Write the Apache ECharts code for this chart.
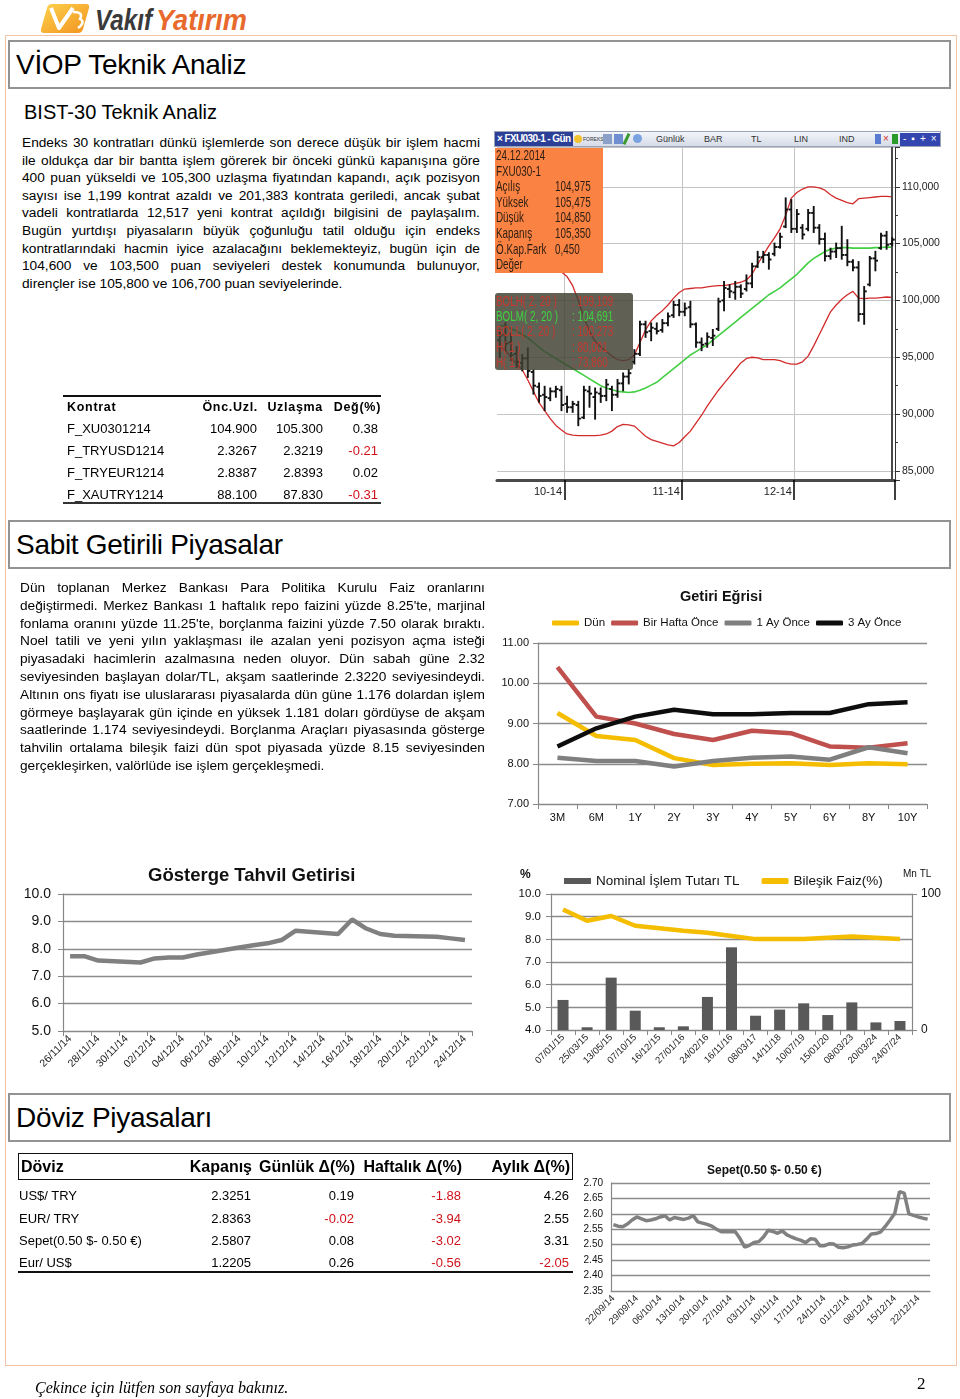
<!DOCTYPE html>
<html lang="tr"><head><meta charset="utf-8">
<script src="https://cdn.jsdelivr.net/npm/echarts@6/dist/echarts.min.js"></script>
<style>
html,body{margin:0;padding:0;background:#fff;}
body{width:960px;height:1399px;position:relative;overflow:hidden;font-family:Arial,"Liberation Sans",Helvetica,sans-serif;color:#000;}
.abs{position:absolute;}
.frame{left:5px;top:35px;width:952px;height:1331px;border:1.5px solid #F3C4A6;box-sizing:border-box;}
.hbox{left:8px;width:943px;height:49px;border:2px solid #939393;box-sizing:border-box;background:#fff;font-size:28px;line-height:45px;padding-left:6px;letter-spacing:-0.3px;}
.para{font-size:13.7px;}
.para .ln{white-space:nowrap;}
.cell{position:absolute;white-space:nowrap;transform:translateY(-50%);}
.tb span{position:absolute;top:2px;font-size:9px;color:#333;}
</style></head>
<body>
<script>
// ---------------- DATA ----------------
// FXU030-1 daily bars
const candleDates = ['15.09.2014','16.09.2014','17.09.2014','18.09.2014','19.09.2014','22.09.2014','23.09.2014','24.09.2014','25.09.2014','26.09.2014','29.09.2014','30.09.2014',
'01.10.2014','02.10.2014','03.10.2014','08.10.2014','09.10.2014','10.10.2014','13.10.2014','14.10.2014','15.10.2014','16.10.2014','17.10.2014','20.10.2014','21.10.2014','22.10.2014','23.10.2014','24.10.2014','27.10.2014','28.10.2014','29.10.2014','30.10.2014','31.10.2014',
'03.11.2014','04.11.2014','05.11.2014','06.11.2014','07.11.2014','10.11.2014','11.11.2014','12.11.2014','13.11.2014','14.11.2014','17.11.2014','18.11.2014','19.11.2014','20.11.2014','21.11.2014','24.11.2014','25.11.2014','26.11.2014','27.11.2014','28.11.2014',
'01.12.2014','02.12.2014','03.12.2014','04.12.2014','05.12.2014','08.12.2014','09.12.2014','10.12.2014','11.12.2014','12.12.2014','15.12.2014','16.12.2014','17.12.2014','18.12.2014','19.12.2014','22.12.2014','23.12.2014','24.12.2014'];
const candleOpen = [96500,97000,96300,95300,94500,94900,93700,92400,91700,91400,92000,92100,
90900,90600,90800,89700,92000,91500,91800,91600,92200,91700,92700,93300,94600,95300,97900,97300,97500,97400,98000,98700,99600,
99000,99400,97900,96300,96200,96700,97500,100000,101000,100700,101200,101000,101500,103000,103800,104000,104100,104700,106500,108000,
106300,106400,106300,107700,106400,105400,103900,104300,104600,104000,103400,102900,98800,101400,103700,104600,105700,104975];
const candleHigh = [97400,97975,97100,95900,95200,95775,93850,92700,92400,92250,92400,92400,
91525,91075,91075,92400,92400,92250,92250,93000,92400,93000,93575,93875,95625,98125,98125,97975,97975,98275,98850,99875,100025,
99725,99875,97975,96650,97100,97400,100150,101625,101325,101625,101325,102200,103225,104275,104275,104150,105000,105875,108975,108825,
107950,106625,107950,108225,106625,105875,104550,105000,106475,105300,103525,103375,101175,103825,104275,105875,106025,105475];
const candleLow = [95050,95625,94750,94150,93850,93275,91800,91075,90350,91225,91525,90350,
90200,90200,89025,89650,90650,89600,91075,91225,90350,91525,92100,92700,94450,95200,96800,96500,97100,97250,97825,98550,98700,
98700,97675,95925,95625,95925,96075,97400,99125,100300,100150,100300,100875,101175,102950,103375,102800,103975,104650,106450,106025,
106025,105450,106175,106025,105000,103525,103675,103825,103675,103100,102650,98225,97950,101325,102650,104550,104550,104850];
const candleClose = [96900,96200,95200,94600,94900,93800,92500,91600,91500,92000,92200,90800,
90600,90900,89600,92100,91800,91900,91600,92600,91700,92700,93300,93600,95300,97900,97200,97600,97300,98000,98600,99600,99000,
99300,97900,96300,96100,96800,96900,99900,101100,100800,101200,100600,101500,103000,103800,104000,103600,104700,105600,108000,106300,
107600,105800,107700,106400,105400,103900,104300,104600,104000,103400,102900,98800,100800,103700,103500,105700,104900,105350];
const bollUpper = [106500,106300,106000,105700,105400,105100,104800,104400,104000,103500,103000,102500,
102100,101300,100000,98500,97300,96400,95900,95500,95100,94800,94700,94800,95200,96300,97400,98200,98700,99100,99600,100200,100700,
101000,101050,101100,101100,101200,101250,101300,101300,101400,101500,101600,101800,102300,103200,104000,104800,105500,106300,107500,109000,
109500,109800,110000,110000,109900,109700,109300,109000,108800,108600,108500,108950,109000,109050,109100,109150,109150,109110];
const bollMiddle = [97800,97700,97500,97300,97000,96700,96300,95900,95500,95200,94900,94600,
94300,94000,93700,93400,93100,92800,92500,92300,92150,92000,91950,91900,91950,92100,92300,92550,92800,93200,93600,94000,94400,
94800,95200,95500,95800,96100,96500,96900,97300,97700,98100,98500,98900,99300,99700,100100,100500,100800,101100,101500,101900,
102300,102800,103300,103700,104000,104300,104500,104600,104650,104650,104600,104600,104600,104600,104650,104650,104700,104691];
const bollLower = [96000,95600,95000,94400,93900,93000,92000,91000,90300,89600,89000,88600,
88250,88150,88100,88100,88100,88100,88150,88250,88500,88900,89100,89050,88950,88500,88050,87750,87600,87450,87300,87200,87500,
88000,88500,89200,89900,90700,91400,92100,92700,93300,93900,94500,94900,95000,94950,94800,94800,94800,94700,94500,94400,
94400,94600,95100,96000,97000,98000,99000,99600,100100,100500,100800,100200,100150,100200,100200,100250,100300,100273];
const candleMonthStarts = ['01.10.2014','03.11.2014','01.12.2014'];
const candleMonthLabels = ['10-14','11-14','12-14'];

// Getiri Eğrisi
const getiriCats = ['3M','6M','1Y','2Y','3Y','4Y','5Y','6Y','8Y','10Y'];
const getiriDun = [9.26,8.69,8.59,8.14,7.97,8.00,8.01,7.97,8.01,7.99];
const getiriBirHafta = [10.40,9.17,9.00,8.74,8.59,8.82,8.76,8.43,8.40,8.51];
const getiriBirAy = [8.15,8.07,8.07,7.93,8.07,8.15,8.18,8.10,8.41,8.26];
const getiriUcAy = [8.43,8.88,9.17,9.34,9.23,9.23,9.26,9.26,9.48,9.53];

// Gösterge Tahvil Getirisi (calendar days, weekends empty)
const tahvilDates = ['26/11/14','27/11/14','28/11/14','29/11/14','30/11/14','01/12/14','02/12/14','03/12/14','04/12/14','05/12/14','06/12/14','07/12/14','08/12/14','09/12/14','10/12/14','11/12/14','12/12/14','13/12/14','14/12/14','15/12/14','16/12/14','17/12/14','18/12/14','19/12/14','20/12/14','21/12/14','22/12/14','23/12/14','24/12/14'];
const tahvilValues = [7.73,7.73,7.57,null,null,7.50,7.65,7.68,7.68,7.79,null,null,8.05,8.13,8.20,8.32,8.66,null,null,8.54,9.07,8.74,8.54,8.48,null,null,8.44,8.38,8.32];

// Nominal İşlem Tutarı / Bileşik Faiz
const nomCats = ['07/01/15','25/03/15','13/05/15','07/10/15','16/12/15','27/01/16','24/02/16','16/11/16','08/03/17','14/11/18','10/07/19','15/01/20','08/03/23','20/03/24','24/07/24'];
const nomTutar = [22.1,2.0,38.5,14.2,2.0,2.7,24.3,60.8,10.5,15.0,19.6,11.0,20.3,5.6,6.6];
const nomFaiz = [9.32,8.82,9.03,8.60,8.49,8.38,8.29,8.15,8.01,8.01,8.01,8.07,8.12,8.07,8.01];

// Sepet (0.50 $ - 0.50 €)
const sepetDates = ['22/09/14','23/09/14','24/09/14','25/09/14','26/09/14','29/09/14','30/09/14','01/10/14','02/10/14','03/10/14',
'06/10/14','07/10/14','08/10/14','09/10/14','10/10/14','13/10/14','14/10/14','15/10/14','16/10/14','17/10/14',
'20/10/14','21/10/14','22/10/14','23/10/14','24/10/14','27/10/14','28/10/14','29/10/14','30/10/14','31/10/14',
'03/11/14','04/11/14','05/11/14','06/11/14','07/11/14','10/11/14','11/11/14','12/11/14','13/11/14','14/11/14',
'17/11/14','18/11/14','19/11/14','20/11/14','21/11/14','24/11/14','25/11/14','26/11/14','27/11/14','28/11/14',
'01/12/14','02/12/14','03/12/14','04/12/14','05/12/14','08/12/14','09/12/14','10/12/14','11/12/14','12/12/14',
'15/12/14','16/12/14','17/12/14','18/12/14','19/12/14','22/12/14','23/12/14','24/12/14'];
const sepetValues = [2.565,2.560,2.558,2.567,2.580,2.590,2.584,2.578,2.580,2.584,
2.590,2.594,2.580,2.588,2.585,2.582,2.586,2.595,2.574,2.570,
2.566,2.560,2.550,2.542,2.542,2.542,2.542,2.520,2.492,2.498,
2.507,2.510,2.525,2.547,2.543,2.537,2.545,2.532,2.525,2.519,
2.514,2.507,2.519,2.518,2.497,2.497,2.503,2.502,2.492,2.490,
2.493,2.499,2.501,2.504,2.518,2.535,2.536,2.542,2.560,2.580,
2.602,2.672,2.667,2.600,2.595,2.590,2.586,2.583];

// Tables
const kontratHeader = ['Kontrat','Önc.Uzl.','Uzlaşma','Değ(%)'];
const kontratNames = ['F_XU0301214','F_TRYUSD1214','F_TRYEUR1214','F_XAUTRY1214'];
const kontratOnc = ['104.900','2.3267','2.8387','88.100'];
const kontratUzl = ['105.300','2.3219','2.8393','87.830'];
const kontratDeg = ['0.38','-0.21','0.02','-0.31'];

const dovizHeader = ['Döviz','Kapanış','Günlük Δ(%)','Haftalık Δ(%)','Aylık Δ(%)'];
const dovizNames = ['US$/ TRY','EUR/ TRY','Sepet(0.50 $- 0.50 €)','Eur/ US$'];
const dovizKapanis = ['2.3251','2.8363','2.5807','1.2205'];
const dovizGunluk = ['0.19','-0.02','0.08','0.26'];
const dovizHaftalik = ['-1.88','-3.94','-3.02','-0.56'];
const dovizAylik = ['4.26','2.55','3.31','-2.05'];

// Text
const para1Lines = [
'Endeks 30 kontratları dünkü işlemlerde son derece düşük bir işlem hacmi',
'ile oldukça dar bir bantta işlem görerek bir önceki günkü kapanışına göre',
'400 puan yükseldi ve 105,300 uzlaşma fiyatından kapandı, açık pozisyon',
'sayısı ise 1,199 kontrat azaldı ve 201,383 kontrata geriledi, ancak şubat',
'vadeli kontratlarda 12,517 yeni kontrat açıldığı bilgisini de paylaşalım.',
'Bugün yurtdışı piyasaların büyük çoğunluğu tatil olduğu için endeks',
'kontratlarındaki hacmin iyice azalacağını beklemekteyiz, bugün için de',
'104,600 ve 103,500 puan seviyeleri destek konumunda bulunuyor,',
'dirençler ise 105,800 ve 106,700 puan seviyelerinde.'];
const para2Lines = [
'Dün toplanan Merkez Bankası Para Politika Kurulu Faiz oranlarını',
"değiştirmedi. Merkez Bankası 1 haftalık repo faizini yüzde 8.25'te, marjinal",
"fonlama oranını yüzde 11.25'te, borçlanma faizini yüzde 7.50 olarak bıraktı.",
'Noel tatili ve yeni yılın yaklaşması ile azalan yeni pozisyon açma isteği',
'piyasadaki hacimlerin azalmasına neden oluyor. Dün sabah güne 2.32',
'seviyesinden başlayan dolar/TL, akşam saatlerinde 2.3220 seviyesindeydi.',
'Altının ons fiyatı ise uluslararası piyasalarda dün güne 1.176 dolardan işlem',
'görmeye başlayarak gün içinde en yüksek 1.181 doları gördüyse de akşam',
'saatlerinde 1.174 seviyesindeydi. Borçlanma Araçları piyasasında gösterge',
'tahvilin ortalama bileşik faizi dün spot piyasada yüzde 8.15 seviyesinden',
'gerçekleşirken, valörlüde ise işlem gerçekleşmedi.'];
</script>

<!-- Logo -->
<svg class="abs" style="left:40px;top:2px" width="215" height="34" viewBox="0 0 215 34">
 <defs><linearGradient id="lg" x1="0" y1="0" x2="1" y2="1"><stop offset="0" stop-color="#FDD24C"/><stop offset="1" stop-color="#F2921F"/></linearGradient></defs>
 <path d="M12 2 H46 Q50 2 49 6 L43 27 Q42 31 38 31 H4 Q0 31 1 27 L7 6 Q8 2 12 2Z" fill="url(#lg)"/>
 <path d="M11 6 L19 26 L33 6" fill="none" stroke="#fff" stroke-width="4" stroke-linejoin="round"/>
 <path d="M33 10 Q44 10 40 17 Q46 20 38 26" fill="none" stroke="#fff" stroke-width="2.5"/>
 <text x="55" y="28" font-family="Liberation Sans, Arial, sans-serif" font-weight="bold" font-style="italic" font-size="29" fill="#3a3a3a" textLength="57" lengthAdjust="spacingAndGlyphs">Vakıf</text>
 <text x="116" y="28" font-family="Liberation Sans, Arial, sans-serif" font-weight="bold" font-style="italic" font-size="29" fill="#E8692C" textLength="91" lengthAdjust="spacingAndGlyphs">Yatırım</text>
</svg>

<div class="abs frame"></div>
<div class="abs hbox" style="top:40px;">VİOP Teknik Analiz</div>
<div class="abs" style="left:24px;top:100px;font-size:20px;line-height:24px;">BIST-30 Teknik Analiz</div>
<div id="p1" class="abs para" style="left:22px;top:134px;width:458px;line-height:17.6px;"></div>

<!-- candle toolbar -->
<div class="abs tb" style="left:494px;top:131px;width:447px;height:16px;background:linear-gradient(#f3f5fa,#d5dbe7);border:1px solid #9aa3b8;box-sizing:border-box;">
 <div class="abs" style="left:0;top:0;width:78px;height:14px;background:#2B3F97;color:#fff;font-weight:bold;font-size:10px;line-height:14px;padding-left:2px;box-sizing:border-box;white-space:nowrap;overflow:hidden;letter-spacing:-0.6px;">× FXU030-1 - Gün</div>
 <div class="abs" style="left:79px;top:3px;width:8px;height:8px;border-radius:4px;background:#f3c230;"></div>
 <span style="left:88px;top:4px;font-size:5px;">FOREKS</span>
 <div class="abs" style="left:108px;top:2px;width:9px;height:10px;background:#8aa0c8;"></div>
 <div class="abs" style="left:119px;top:2px;width:9px;height:10px;background:#6f8fd0;"></div>
 <div class="abs" style="left:130px;top:1px;width:3px;height:12px;background:#3a9a30;transform:rotate(25deg);"></div>
 <div class="abs" style="left:138px;top:2px;width:9px;height:9px;border-radius:5px;background:#7aa2e0;"></div>
 <span style="left:161px;">Günlük</span>
 <span style="left:209px;">BAR</span>
 <span style="left:256px;">TL</span>
 <span style="left:299px;">LIN</span>
 <span style="left:344px;">IND</span>
 <div class="abs" style="left:380px;top:2px;width:6px;height:10px;background:#5a7bd0;"></div>
 <div class="abs" style="left:388px;top:2px;width:7px;height:10px;color:#d03030;font-size:10px;line-height:10px;">×</div>
 <div class="abs" style="left:397px;top:2px;width:6px;height:10px;background:#2a9a2a;"></div>
 <div class="abs" style="left:405px;top:1px;width:40px;height:13px;background:#3346b0;color:#fff;font-size:10px;line-height:12px;letter-spacing:5px;padding-left:3px;box-sizing:border-box;">-▪+×</div>
</div>
<div id="c1" class="abs" style="left:494px;top:147px;width:460px;height:357px;"></div>

<!-- Kontrat table -->
<div id="kontrat" class="abs" style="left:0;top:0;width:960px;height:600px;pointer-events:none;"></div>

<div class="abs hbox" style="top:520px;">Sabit Getirili Piyasalar</div>
<div id="p2" class="abs para" style="left:20px;top:579px;width:465px;line-height:17.8px;"></div>
<div id="c2" class="abs" style="left:495px;top:580px;width:435px;height:250px;"></div>
<div id="c3" class="abs" style="left:15px;top:858px;width:462px;height:225px;"></div>
<div id="c4" class="abs" style="left:510px;top:858px;width:440px;height:225px;"></div>

<div class="abs hbox" style="top:1093px;">Döviz Piyasaları</div>
<div id="doviz" class="abs" style="left:0;top:0;width:960px;height:1399px;pointer-events:none;"></div>
<div id="c5" class="abs" style="left:575px;top:1150px;width:365px;height:200px;"></div>

<div class="abs" style="left:35px;top:1378px;font-family:'Liberation Serif','Times New Roman',serif;font-style:italic;font-size:16px;line-height:20px;">Çekince için lütfen son sayfaya bakınız.</div>
<div class="abs" style="left:917px;top:1374px;font-family:'Liberation Serif','Times New Roman',serif;font-size:17px;line-height:20px;">2</div>

<script>
// paragraphs
function renderPara(el, lines){
  lines.forEach((ln,i)=>{
    const d=document.createElement('div'); d.className='ln';
    if(i<lines.length-1){
      d.style.display='flex'; d.style.justifyContent='space-between';
      ln.split(' ').forEach(w=>{const s=document.createElement('span'); s.textContent=w; d.appendChild(s);});
    } else d.textContent=ln;
    el.appendChild(d);
  });
}
renderPara(document.getElementById('p1'), para1Lines);
renderPara(document.getElementById('p2'), para2Lines);

function cell(parent, text, x, y, opt){
  opt=opt||{};
  const s=document.createElement('div'); s.className='cell'; s.textContent=text;
  s.style.top=y+'px';
  if(opt.right){ s.style.right=(960-x)+'px'; } else s.style.left=x+'px';
  s.style.fontSize=(opt.size||13)+'px';
  if(opt.bold) s.style.fontWeight='bold';
  if(opt.ls) s.style.letterSpacing=opt.ls+'px';
  if(opt.num && text.charAt(0)==='-') s.style.color='#D0121B';
  parent.appendChild(s);
}
function hline(parent,x,y,w,h,c){const d=document.createElement('div');d.className='abs';d.style.left=x+'px';d.style.top=y+'px';d.style.width=w+'px';d.style.height=h+'px';d.style.background=c;parent.appendChild(d);}

// Kontrat table
(function(){
  const p=document.getElementById('kontrat');
  hline(p,63,395,318,2,'#111');
  hline(p,63,502,318,1.5,'#333');
  const hy=406.5;
  cell(p,kontratHeader[0],67,hy,{bold:true,size:12.5,ls:0.7});
  cell(p,kontratHeader[1],258,hy,{bold:true,size:12.5,ls:0.7,right:true});
  cell(p,kontratHeader[2],323,hy,{bold:true,size:12.5,ls:0.7,right:true});
  cell(p,kontratHeader[3],381,hy,{bold:true,size:12.5,ls:0.7,right:true});
  const ys=[427.5,450,471.5,493.5];
  kontratNames.forEach((n,i)=>{
    cell(p,n,67,ys[i],{size:13});
    cell(p,kontratOnc[i],257,ys[i],{right:true,size:13});
    cell(p,kontratUzl[i],323,ys[i],{right:true,size:13});
    cell(p,kontratDeg[i],378,ys[i],{right:true,size:13,num:true});
  });
})();

// Döviz table
(function(){
  const p=document.getElementById('doviz');
  const b=document.createElement('div'); b.className='abs';
  b.style.cssText='left:18px;top:1153px;width:555px;height:27px;border:1.5px solid #111;box-sizing:border-box;';
  p.appendChild(b);
  hline(p,18,1271,555,2,'#111');
  const hy=1167;
  cell(p,dovizHeader[0],21,hy,{bold:true,size:16});
  cell(p,dovizHeader[1],252,hy,{bold:true,size:16,right:true});
  cell(p,dovizHeader[2],355,hy,{bold:true,size:16,right:true});
  cell(p,dovizHeader[3],462,hy,{bold:true,size:16,right:true});
  cell(p,dovizHeader[4],570,hy,{bold:true,size:16,right:true});
  const ys=[1195,1217.5,1240,1262];
  dovizNames.forEach((n,i)=>{
    cell(p,n,19,ys[i],{size:13});
    cell(p,dovizKapanis[i],251,ys[i],{right:true,size:13});
    cell(p,dovizGunluk[i],354,ys[i],{right:true,size:13,num:true});
    cell(p,dovizHaftalik[i],461,ys[i],{right:true,size:13,num:true});
    cell(p,dovizAylik[i],569,ys[i],{right:true,size:13,num:true});
  });
})();

const AF='Arial,"Liberation Sans",sans-serif';
const GRID='#8c8c8c';

// ---------- Candle chart ----------
const monthIdx = candleMonthStarts.map(d=>candleDates.indexOf(d));
const isMonth = i => monthIdx.indexOf(i)>=0;
const fmtK = v => { const s=String(Math.round(v)); return s.slice(0,-3)+','+s.slice(-3); };
const c1=echarts.init(document.getElementById('c1'));
function gtext(x,y,t,color){return {type:'text',x:x,y:y,z:101,scaleX:0.68,style:{text:t,fill:color,fontSize:14.5,fontFamily:AF,verticalAlign:'middle'}};}
c1.setOption({
  animation:false,
  grid:{left:3,top:0,width:398,height:333,outerBoundsMode:'none',containLabel:false},
  xAxis:{type:'category',data:candleDates,boundaryGap:true,
    axisLine:{show:true,lineStyle:{color:'#4a4a4a',width:3}},
    axisTick:{show:true,interval:(i)=>isMonth(i),length:20,lineStyle:{color:'#000',width:1.5}},
    axisLabel:{show:true,interval:(i)=>isMonth(i),formatter:(v)=>{const k=candleMonthStarts.indexOf(v);return k>=0?candleMonthLabels[k]:'';},
      align:'right',padding:[0,5,0,0],margin:6,fontFamily:AF,fontSize:11,color:'#222'},
    splitLine:{show:true,interval:(i)=>isMonth(i),lineStyle:{color:'#c4c4c4',width:1}}},
  yAxis:{type:'value',position:'right',min:84200,max:113500,splitNumber:6,
    axisLine:{show:true,lineStyle:{color:'#333',width:1}},
    axisTick:{show:true,length:5,lineStyle:{color:'#333'}},
    minorTick:{show:true,splitNumber:2,length:3,lineStyle:{color:'#333'}},
    axisLabel:{show:true,formatter:fmtK,margin:7,fontFamily:AF,fontSize:10.5,color:'#222',showMinLabel:false,showMaxLabel:false},
    splitLine:{show:true,lineStyle:{color:'#c4c4c4',width:1}}},
  series:[
    {type:'line',data:bollUpper,symbol:'none',lineStyle:{color:'#D22B2B',width:1.3},z:2,silent:true},
    {type:'line',data:bollMiddle,symbol:'none',lineStyle:{color:'#43CF43',width:1.6},z:2,silent:true,
      markLine:{silent:true,symbol:['none','none'],label:{show:false},lineStyle:{color:'#4a4a4a',width:2,type:'solid'},data:[{xAxis:candleDates[candleDates.length-1]}]}},
    {type:'line',data:bollLower,symbol:'none',lineStyle:{color:'#D22B2B',width:1.3},z:2,silent:true},
    {type:'custom',z:5,silent:true,encode:{x:0,y:[1,2,3,4]},
      data:candleDates.map((d,i)=>[i,candleOpen[i],candleClose[i],candleLow[i],candleHigh[i]]),
      renderItem:(params,api)=>{
        const i=api.value(0);
        const pO=api.coord([i,api.value(1)]),pC=api.coord([i,api.value(2)]),pL=api.coord([i,api.value(3)]),pH=api.coord([i,api.value(4)]);
        const w=2.6, st={stroke:'#111',lineWidth:1.9};
        return {type:'group',children:[
          {type:'line',shape:{x1:pH[0],y1:pH[1]-1,x2:pL[0],y2:pL[1]+1},style:st},
          {type:'line',shape:{x1:pO[0]-w,y1:pO[1],x2:pO[0],y2:pO[1]},style:st},
          {type:'line',shape:{x1:pC[0],y1:pC[1],x2:pC[0]+w,y2:pC[1]},style:st}]};
      }}
  ],
  graphic:[
    {type:'rect',x:1,y:1,z:100,shape:{width:108,height:125},style:{fill:'#FA8242'}},
    gtext(2,9,'24.12.2014','#2b1d12'),
    gtext(2,24.7,'FXU030-1','#2b1d12'),
    gtext(2,40,'Açılış','#2b1d12'), gtext(61,40,'104,975','#2b1d12'),
    gtext(2,55.7,'Yüksek','#2b1d12'), gtext(61,55.7,'105,475','#2b1d12'),
    gtext(2,71,'Düşük','#2b1d12'), gtext(61,71,'104,850','#2b1d12'),
    gtext(2,87,'Kapanış','#2b1d12'), gtext(61,87,'105,350','#2b1d12'),
    gtext(2,102.7,'Ö.Kap.Fark','#2b1d12'), gtext(61,102.7,'0,450','#2b1d12'),
    gtext(2,118.3,'Değer','#2b1d12'),
    {type:'rect',x:1,y:146,z:100,shape:{width:138,height:77,r:3},style:{fill:'rgba(66,66,52,0.84)'}},
    gtext(2,154.7,'BOLH( 2, 20 )','#C8382E'), gtext(78,154.7,': 109,109','#C8382E'),
    gtext(2,169.7,'BOLM( 2, 20 )','#3FD43F'), gtext(78,169.7,': 104,691','#3FD43F'),
    gtext(2,185.3,'BOLL( 2, 20 )','#C8382E'), gtext(78,185.3,': 100,273','#C8382E'),
    gtext(2,201.3,'H( 1 )','#C8382E'), gtext(78,201.3,': 80,001','#C8382E'),
    gtext(2,216.3,'H( 1 )','#C8382E'), gtext(78,216.3,': 73,860','#C8382E')
  ]
});

// ---------- Getiri Eğrisi ----------
const c2=echarts.init(document.getElementById('c2'));
c2.setOption({
  animation:false,
  title:{text:'Getiri Eğrisi',left:180,top:4,textStyle:{fontSize:14.5,fontWeight:'bold',color:'#111',fontFamily:AF}},
  legend:{top:32,left:52,itemGap:6,itemWidth:27,itemHeight:5,icon:'roundRect',textStyle:{fontSize:11.5,color:'#111',fontFamily:AF},
    data:['Dün','Bir Hafta Önce','1 Ay Önce','3 Ay Önce']},
  grid:{left:43,top:63,right:3,bottom:26,outerBoundsMode:'none',containLabel:false},
  xAxis:{type:'category',data:getiriCats,boundaryGap:true,
    axisLine:{show:true,lineStyle:{color:'#888',width:1.2}},
    axisTick:{show:true,length:5,lineStyle:{color:'#888'}},
    axisLabel:{fontSize:11,color:'#111',margin:8,fontFamily:AF},splitLine:{show:false}},
  yAxis:{type:'value',min:7,max:11,interval:1,
    axisLine:{show:true,lineStyle:{color:'#888',width:1.2}},
    axisTick:{show:true,length:5,lineStyle:{color:'#888'}},
    axisLabel:{formatter:v=>v.toFixed(2),fontSize:11,color:'#111',margin:9,fontFamily:AF},
    splitLine:{show:true,lineStyle:{color:GRID,width:1.3}}},
  series:[
    {name:'Dün',type:'line',data:getiriDun,symbol:'none',color:'#F5BD00',lineStyle:{width:4.5}},
    {name:'Bir Hafta Önce',type:'line',data:getiriBirHafta,symbol:'none',color:'#C0504D',lineStyle:{width:4.5}},
    {name:'1 Ay Önce',type:'line',data:getiriBirAy,symbol:'none',color:'#7F7F7F',lineStyle:{width:4.5}},
    {name:'3 Ay Önce',type:'line',data:getiriUcAy,symbol:'none',color:'#0D0D0D',lineStyle:{width:4.5}}
  ]
});

// ---------- Gösterge Tahvil Getirisi ----------
const c3=echarts.init(document.getElementById('c3'));
c3.setOption({
  animation:false,
  title:{text:'Gösterge Tahvil Getirisi',left:128,top:3,textStyle:{fontSize:18.5,fontWeight:'bold',color:'#111',fontFamily:AF}},
  grid:{left:48,top:36,width:409,height:137,outerBoundsMode:'none',containLabel:false},
  xAxis:{type:'category',data:tahvilDates,boundaryGap:true,
    axisLine:{show:true,lineStyle:{color:'#888',width:1.2}},
    axisTick:{show:true,interval:1,length:5,lineStyle:{color:'#888'}},
    axisLabel:{interval:1,rotate:45,fontSize:10.5,color:'#222',margin:6,fontFamily:AF},splitLine:{show:false}},
  yAxis:{type:'value',min:5,max:10,interval:1,
    axisLine:{show:true,lineStyle:{color:'#888',width:1.2}},
    axisTick:{show:true,length:5,lineStyle:{color:'#888'}},
    axisLabel:{formatter:v=>v.toFixed(1),fontSize:14,color:'#111',margin:12,fontFamily:AF},
    splitLine:{show:true,lineStyle:{color:GRID,width:1.3}}},
  series:[{type:'line',data:tahvilValues,connectNulls:true,symbol:'none',color:'#808080',lineStyle:{width:4.5}}]
});

// ---------- Nominal İşlem / Bileşik Faiz ----------
const c4=echarts.init(document.getElementById('c4'));
c4.setOption({
  animation:false,
  legend:{top:11,left:49,itemGap:22,itemWidth:27,itemHeight:6,textStyle:{fontSize:13.5,color:'#111',fontFamily:AF},
    data:[{name:'Nominal İşlem Tutarı TL',icon:'rect'},{name:'Bileşik Faiz(%)',icon:'roundRect'}]},
  grid:{left:41,top:36,width:361,height:136,outerBoundsMode:'none',containLabel:false},
  xAxis:{type:'category',data:nomCats,boundaryGap:true,
    axisLine:{show:true,lineStyle:{color:'#888',width:1.2}},
    axisTick:{show:true,length:5,lineStyle:{color:'#888'}},
    axisLabel:{interval:0,rotate:45,fontSize:9.5,color:'#222',margin:6,fontFamily:AF},splitLine:{show:false}},
  yAxis:[
    {type:'value',min:4,max:10,interval:1,
      axisLine:{show:true,lineStyle:{color:'#888',width:1.2}},
      axisTick:{show:true,length:5,lineStyle:{color:'#888'}},
      axisLabel:{formatter:v=>v.toFixed(1),fontSize:11.5,color:'#111',margin:10,fontFamily:AF},
      splitLine:{show:true,lineStyle:{color:GRID,width:1.3}}},
    {type:'value',min:0,max:100,interval:100,position:'right',
      axisLine:{show:true,lineStyle:{color:'#888',width:1.2}},
      axisTick:{show:true,length:5,lineStyle:{color:'#888'}},
      axisLabel:{fontSize:12,color:'#111',margin:9,fontFamily:AF},splitLine:{show:false}}],
  series:[
    {name:'Nominal İşlem Tutarı TL',type:'bar',yAxisIndex:1,data:nomTutar,barWidth:11,color:'#595959'},
    {name:'Bileşik Faiz(%)',type:'line',yAxisIndex:0,data:nomFaiz,symbol:'none',color:'#F5BD00',lineStyle:{width:4.5}}
  ],
  graphic:[
    {type:'text',x:10,y:17,style:{text:'%',fontSize:12,fontWeight:'bold',fill:'#111',fontFamily:AF,verticalAlign:'middle'}},
    {type:'text',x:393,y:16,style:{text:'Mn TL',fontSize:10,fill:'#111',fontFamily:AF,verticalAlign:'middle'}}
  ]
});

// ---------- Sepet ----------
const c5=echarts.init(document.getElementById('c5'));
c5.setOption({
  animation:false,
  title:{text:'Sepet(0.50 $- 0.50 €)',left:127,top:10,textStyle:{fontSize:12,fontWeight:'bold',color:'#111',fontFamily:AF}},
  grid:{left:36,top:33,width:319,height:108,outerBoundsMode:'none',containLabel:false},
  xAxis:{type:'category',data:sepetDates,boundaryGap:true,
    axisLine:{show:true,lineStyle:{color:'#888',width:1.2}},
    axisTick:{show:false},
    axisLabel:{interval:4,rotate:45,fontSize:9.5,color:'#222',margin:6,fontFamily:AF},splitLine:{show:false}},
  yAxis:{type:'value',min:2.35,max:2.70,interval:0.05,
    axisLine:{show:true,lineStyle:{color:'#888',width:1.2}},
    axisTick:{show:false},
    axisLabel:{formatter:v=>v.toFixed(2),fontSize:10,color:'#111',margin:8,fontFamily:AF},
    splitLine:{show:true,lineStyle:{color:GRID,width:1.3}}},
  series:[{type:'line',data:sepetValues,symbol:'none',color:'#808080',lineStyle:{width:3.5}}]
});
</script>
</body></html>
